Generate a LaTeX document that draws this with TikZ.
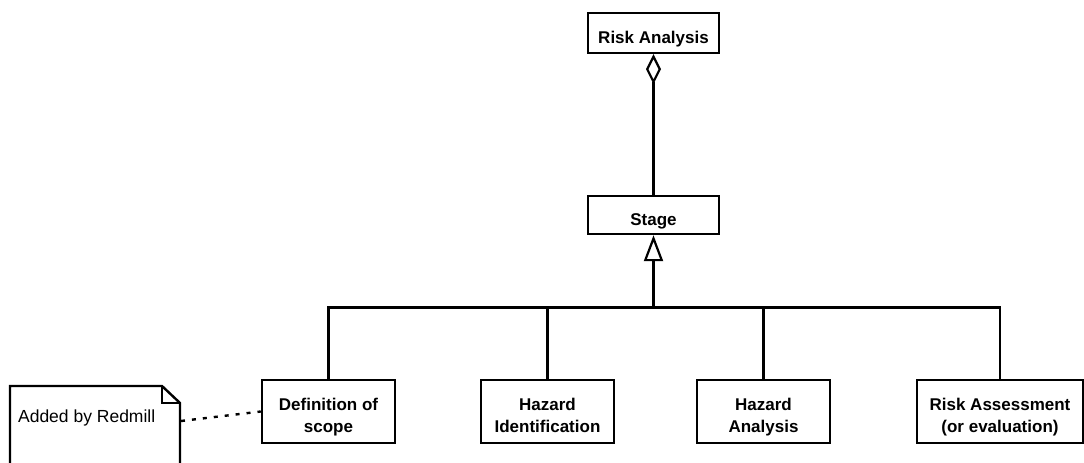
\documentclass[tikz,border=0pt]{standalone}
\usepackage{fontspec}
\setmainfont{Liberation Sans}
\usetikzlibrary{arrows.meta}
% class label: centred lines, set a little below the box centre
\newcommand{\clslabel}[1]{\raisebox{-6pt}[\height][\depth]{\begin{tabular}{@{}c@{}}#1\end{tabular}}}
\begin{document}
\begin{tikzpicture}[x=1pt,y=-1pt,
  line width=2.2pt,
  cls/.style={draw, rectangle, inner sep=0pt, line width=2.4pt,
    font=\fontsize{17}{22}\selectfont\bfseries},
  link/.style={line width=2.2pt},
  notetext/.style={anchor=west, inner sep=0pt, font=\fontsize{17.5}{20}\selectfont}]
\useasboundingbox (0,0) rectangle (1084,463);
% classes
\node[cls, minimum width=131pt, minimum height=40pt] (ra) at (653.5,33) {\clslabel{Risk Analysis}};
\node[cls, minimum width=131pt, minimum height=38pt] (stage) at (653.5,215) {\clslabel{Stage}};
\node[cls, minimum width=133pt, minimum height=63pt] (def) at (328.5,411.5) {\clslabel{Definition of\\scope}};
\node[cls, minimum width=133pt, minimum height=63pt] (hid) at (547.5,411.5) {\clslabel{Hazard\\Identification}};
\node[cls, minimum width=133pt, minimum height=63pt] (han) at (763.5,411.5) {\clslabel{Hazard\\Analysis}};
\node[cls, minimum width=166pt, minimum height=63pt] (rass) at (1000,411.5) {\clslabel{Risk Assessment\\(or evaluation)}};
% aggregation
\draw[link, {Diamond[open, length=30pt, width=15pt, line width=2.2pt]}-] (ra.south) -- (stage.north);
% generalisation tree
\coordinate (bar) at (653.5,307.5);
\draw[link, -{Triangle[open, length=26pt, width=19pt, line width=2.2pt]}] (bar) -- (stage.south);
\draw[link] (def.north) |- (bar) -| (rass.north);
\draw[link] (hid.north) -- (hid.north |- bar);
\draw[link] (han.north) -- (han.north |- bar);
% note
\draw[line width=2.4pt, line join=miter] (10,386) -- (162,386) -- (180,403) -- (180,480) -- (10,480) -- cycle;
\draw[line width=2.4pt] (162,386) -- (162,403) -- (180,403);
\node[notetext] (note) at (17,418) {Added by Redmill};
\coordinate (noteedge) at (181,421);
\draw[line width=2.4pt, dash pattern=on 4pt off 7pt] (noteedge) -- (def.west);
\end{tikzpicture}
\end{document}
